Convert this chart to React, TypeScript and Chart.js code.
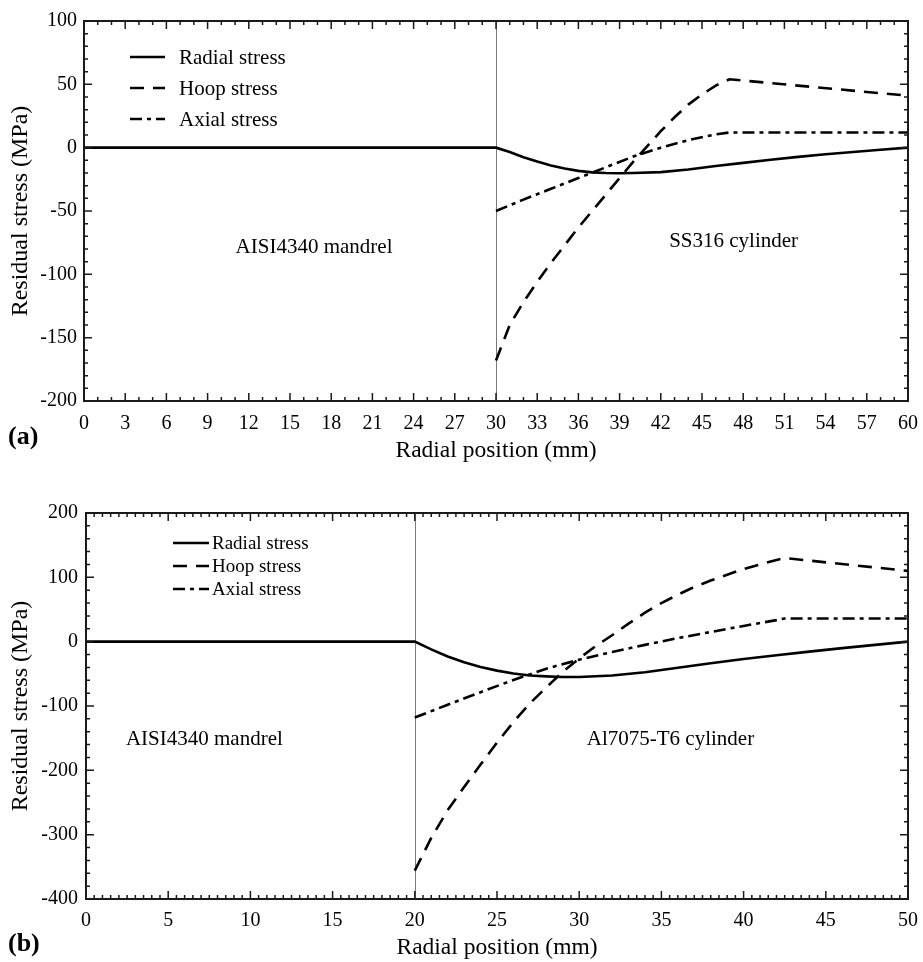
import React, { useEffect, useRef } from "react";
import { Chart, registerables } from "chart.js";

Chart.register(...registerables);

const SERIF = '"Liberation Serif", "Times New Roman", Times, serif';

// ---------------- Panel (a): SS316 cylinder on AISI4340 mandrel ----------------
const aRadialX = [0, 30, 31, 32, 33, 34, 35, 36, 37, 38, 39, 40, 42, 44, 46, 48, 50, 52, 54, 56, 58, 60];
const aRadialY = [0, 0, -3.5, -7.5, -11, -14, -16.5, -18.3, -19.5, -20, -20.2, -20, -19.3, -17.2, -14.5, -12, -9.5, -7.3, -5.2, -3.4, -1.7, 0];
const aHoopX = [30, 31, 32, 33, 34, 35, 36, 37, 38, 39, 40, 41, 42, 43, 44, 45, 46, 47, 60];
const aHoopY = [-168, -140, -122, -106, -91, -77, -63, -50, -37, -24, -11, 1, 13, 24, 34, 42, 49, 54, 41];
const aAxialX = [30, 32, 34, 36, 38, 40, 42, 44, 46, 47, 60];
const aAxialY = [-50, -41, -32.5, -24, -15.5, -7, 0, 6, 10.5, 12, 12];
const aXRange = [0, 60];
const aXStep = 3;
const aXMinor = 1;
const aYRange = [-200, 100];
const aYStep = 50;
const aYMinor = 10;
const aInterface = 30;
const aNotes = ["AISI4340 mandrel", "SS316 cylinder"];

// ---------------- Panel (b): Al7075-T6 cylinder on AISI4340 mandrel ----------------
const bRadialX = [0, 20, 21, 22, 23, 24, 25, 26, 27, 28, 29, 30, 32, 34, 36, 38, 40, 42, 44, 46, 48, 50];
const bRadialY = [0, 0, -12, -23, -32, -39.5, -45, -49.5, -52.5, -54, -55, -55, -52.5, -47.5, -40.5, -33.5, -27, -21, -15.5, -10, -5, 0];
const bHoopX = [20, 21, 22, 23, 24, 25, 26, 27, 28, 29, 30, 31, 32, 33, 34, 35, 36, 37, 38, 39, 40, 41, 42, 42.5, 50];
const bHoopY = [-356, -305, -262, -226, -191, -157, -125, -96, -71, -47, -26, -7, 10, 28, 45, 60, 73, 85, 95, 104, 113, 120, 127, 130, 110];
const bAxialX = [20, 22, 24, 26, 28, 30, 32, 34, 36, 38, 40, 42, 42.5, 50];
const bAxialY = [-118, -98, -78.5, -59.5, -42, -28, -16, -5, 5.5, 15, 24.5, 33.5, 36, 36];
const bXRange = [0, 50];
const bXStep = 5;
const bXMinor = 0.5;
const bYRange = [-400, 200];
const bYStep = 100;
const bYMinor = 20;
const bInterface = 20;
const bNotes = ["AISI4340 mandrel", "Al7075-T6 cylinder"];

const seriesLabels = ["Radial stress", "Hoop stress", "Axial stress"];
const xTitle = "Radial position (mm)";
const yTitle = "Residual stress (MPa)";

type Series = { label: string; x: number[]; y: number[]; dash: number[] };
type Note = { text: string; x: number; y: number };
type Spec = {
  height: number;
  top: number;
  padTop: number;
  padBottom: number;
  yAxisWidth: number;
  xAxisHeight: number;
  xTickPad: number;
  yTickPad: number;
  yTitlePad: number;
  xRange: number[];
  xStep: number;
  xMinor: number;
  yRange: number[];
  yStep: number;
  yMinor: number;
  series: Series[];
  decor: any;
};

const decorPlugin = {
  id: "decor",
  beforeDatasetsDraw(chart: any, _a: any, o: any) {
    const { ctx, chartArea } = chart;
    const px = Math.round(chart.scales.x.getPixelForValue(o.sepX)) + 0.5;
    ctx.save();
    ctx.strokeStyle = "#7a7a7a";
    ctx.lineWidth = 1;
    ctx.beginPath();
    ctx.moveTo(px, chartArea.top);
    ctx.lineTo(px, chartArea.bottom);
    ctx.stroke();
    ctx.restore();
  },
  afterDraw(chart: any, _a: any, o: any) {
    const { ctx, chartArea } = chart;
    const { left, right, top, bottom } = chartArea;
    const xs = chart.scales.x;
    const ys = chart.scales.y;
    ctx.save();
    // inward ticks on all four sides
    ctx.strokeStyle = "#1a1a1a";
    ctx.lineWidth = 1.5;
    const majorX = xs.ticks.map((t: any) => t.value);
    const majorY = ys.ticks.map((t: any) => t.value);
    const nX = Math.round((xs.max - xs.min) / o.minorX);
    const nY = Math.round((ys.max - ys.min) / o.minorY);
    ctx.beginPath();
    for (let i = 0; i <= nX; i++) {
      const v = xs.min + i * o.minorX;
      const isMajor = majorX.some((m: number) => Math.abs(m - v) < 1e-6);
      const len = isMajor ? 8 : 4;
      const p = xs.getPixelForValue(v);
      ctx.moveTo(p, bottom);
      ctx.lineTo(p, bottom - len);
      ctx.moveTo(p, top);
      ctx.lineTo(p, top + len);
    }
    for (let i = 0; i <= nY; i++) {
      const v = ys.min + i * o.minorY;
      const isMajor = majorY.some((m: number) => Math.abs(m - v) < 1e-6);
      const len = isMajor ? 8 : 4;
      const p = ys.getPixelForValue(v);
      ctx.moveTo(left, p);
      ctx.lineTo(left + len, p);
      ctx.moveTo(right, p);
      ctx.lineTo(right - len, p);
    }
    ctx.stroke();
    // frame
    ctx.lineWidth = 2;
    ctx.strokeStyle = "#1a1a1a";
    ctx.strokeRect(left, top, right - left, bottom - top);

    // legend
    const L = o.legend;
    ctx.fillStyle = "#000";
    ctx.font = `${L.size}px ${SERIF}`;
    ctx.textAlign = "left";
    ctx.textBaseline = "middle";
    chart.data.datasets.forEach((ds: any, i: number) => {
      const y = L.y + i * L.dy;
      ctx.strokeStyle = "#000";
      ctx.lineWidth = 2.6;
      ctx.setLineDash(ds.borderDash || []);
      ctx.beginPath();
      ctx.moveTo(L.x, y);
      ctx.lineTo(L.x + L.len, y);
      ctx.stroke();
      ctx.setLineDash([]);
      ctx.fillText(ds.label, L.x + L.len + L.gap, y + 1);
    });

    // annotations
    ctx.font = `${o.noteSize}px ${SERIF}`;
    ctx.textAlign = "center";
    o.notes.forEach((n: Note) => {
      ctx.fillText(n.text, xs.getPixelForValue(n.x), ys.getPixelForValue(n.y));
    });

    // panel tag
    ctx.font = `bold ${o.tag.size}px ${SERIF}`;
    ctx.textAlign = "left";
    ctx.fillText(o.tag.text, o.tag.x, o.tag.y);
    ctx.restore();
  },
};

function buildChart(canvas: HTMLCanvasElement, s: Spec) {
  return new Chart(canvas, {
    type: "line",
    data: {
      datasets: s.series.map((ser) => ({
        label: ser.label,
        data: ser.x.map((x, i) => ({ x, y: ser.y[i] })),
        borderColor: "#000",
        borderWidth: 2.6,
        borderDash: ser.dash,
        pointRadius: 0,
        fill: false,
        tension: 0,
      })),
    },
    options: {
      responsive: false,
      animation: false,
      devicePixelRatio: 1,
      layout: { padding: { left: 0, right: 15, top: s.padTop, bottom: s.padBottom } },
      plugins: {
        legend: { display: false },
        tooltip: { enabled: false },
        decor: s.decor,
      } as any,
      scales: {
        x: {
          type: "linear",
          min: s.xRange[0],
          max: s.xRange[1],
          grid: { display: false, drawTicks: false },
          border: { display: false },
          ticks: {
            stepSize: s.xStep,
            autoSkip: false,
            maxRotation: 0,
            padding: s.xTickPad,
            color: "#000",
            font: { family: SERIF, size: 20 },
          },
          title: {
            display: true,
            text: xTitle,
            color: "#000",
            font: { family: SERIF, size: 23.5 },
            padding: { top: 0, bottom: 0 },
          },
          afterFit: (sc: any) => {
            sc.height = s.xAxisHeight;
            sc.paddingLeft = 0;
            sc.paddingRight = 0;
          },
        },
        y: {
          type: "linear",
          min: s.yRange[0],
          max: s.yRange[1],
          grid: { display: false, drawTicks: false },
          border: { display: false },
          ticks: {
            stepSize: s.yStep,
            autoSkip: false,
            padding: s.yTickPad,
            color: "#000",
            font: { family: SERIF, size: 20 },
          },
          title: {
            display: true,
            text: yTitle,
            color: "#000",
            font: { family: SERIF, size: 24 },
            padding: { top: s.yTitlePad, bottom: 0 },
          },
          afterFit: (sc: any) => {
            sc.width = s.yAxisWidth;
            sc.paddingTop = 0;
            sc.paddingBottom = 0;
          },
        },
      },
    } as any,
    plugins: [decorPlugin as any],
  });
}

const DASH_SOLID: number[] = [];
const DASH_HOOP = [14, 9];
const DASH_AXIAL = [12, 5, 4, 5];

const specA: Spec = {
  height: 470,
  top: 0,
  padTop: 21,
  padBottom: 5,
  yAxisWidth: 84,
  xAxisHeight: 64,
  xTickPad: 11,
  yTickPad: 7,
  yTitlePad: 6,
  xRange: aXRange,
  xStep: aXStep,
  xMinor: aXMinor,
  yRange: aYRange,
  yStep: aYStep,
  yMinor: aYMinor,
  series: [
    { label: seriesLabels[0], x: aRadialX, y: aRadialY, dash: DASH_SOLID },
    { label: seriesLabels[1], x: aHoopX, y: aHoopY, dash: DASH_HOOP },
    { label: seriesLabels[2], x: aAxialX, y: aAxialY, dash: DASH_AXIAL },
  ],
  decor: {
    sepX: aInterface,
    minorX: aXMinor,
    minorY: aYMinor,
    legend: { x: 130, y: 57, dy: 31, len: 35, gap: 14, size: 21 },
    noteSize: 21,
    notes: [
      { text: aNotes[0], x: 16.75, y: -79 },
      { text: aNotes[1], x: 47.3, y: -74 },
    ],
    tag: { text: "(a)", x: 8, y: 437, size: 26 },
  },
};

const specB: Spec = {
  height: 492,
  top: 470,
  padTop: 43,
  padBottom: 0,
  yAxisWidth: 86,
  xAxisHeight: 63,
  xTickPad: 10,
  yTickPad: 8,
  yTitlePad: 6,
  xRange: bXRange,
  xStep: bXStep,
  xMinor: bXMinor,
  yRange: bYRange,
  yStep: bYStep,
  yMinor: bYMinor,
  series: [
    { label: seriesLabels[0], x: bRadialX, y: bRadialY, dash: DASH_SOLID },
    { label: seriesLabels[1], x: bHoopX, y: bHoopY, dash: DASH_HOOP },
    { label: seriesLabels[2], x: bAxialX, y: bAxialY, dash: DASH_AXIAL },
  ],
  decor: {
    sepX: bInterface,
    minorX: bXMinor,
    minorY: bYMinor,
    legend: { x: 173, y: 73, dy: 23, len: 36, gap: 3, size: 19 },
    noteSize: 21,
    notes: [
      { text: bNotes[0], x: 7.2, y: -152 },
      { text: bNotes[1], x: 35.55, y: -152 },
    ],
    tag: { text: "(b)", x: 8, y: 474, size: 26 },
  },
};

function Panel({ spec }: { spec: Spec }) {
  const ref = useRef<HTMLCanvasElement | null>(null);
  useEffect(() => {
    if (!ref.current) return;
    const chart = buildChart(ref.current, spec);
    return () => chart.destroy();
  }, [spec]);
  return (
    <canvas
      ref={ref}
      width={923}
      height={spec.height}
      style={{ position: "absolute", left: 0, top: spec.top, width: 923, height: spec.height, display: "block" }}
    />
  );
}

export default function App() {
  return (
    <div style={{ position: "absolute", left: 0, top: 0, width: 923, height: 962, background: "#fff" }}>
      <Panel spec={specA} />
      <Panel spec={specB} />
    </div>
  );
}
